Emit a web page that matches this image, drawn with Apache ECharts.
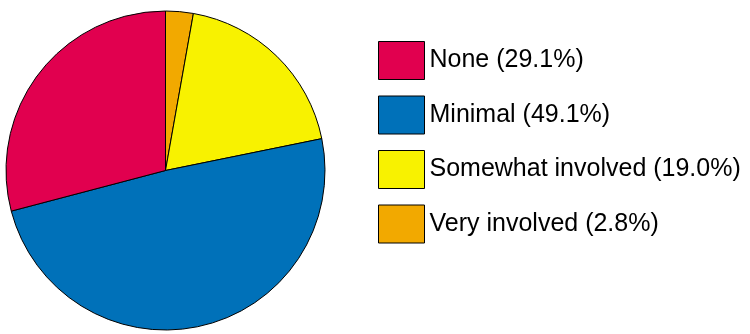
<!DOCTYPE html>
<html><head><meta charset="utf-8">
<script src="https://cdn.jsdelivr.net/npm/echarts@6/dist/echarts.min.js"></script>
<style>html,body{margin:0;padding:0;background:#fff}#c{width:750px;height:334px}</style>
</head><body><div id="c"></div>
<script>
// Pie order, clockwise from 12 o'clock
const categories = ['Very involved', 'Somewhat involved', 'Minimal', 'None'];
const values = [2.8, 19.0, 49.1, 29.1];
const colors = ['#F2A900', '#F8F200', '#0071B9', '#E1004F'];
const legendOrder = ['None', 'Minimal', 'Somewhat involved', 'Very involved'];

const label = (c) => c + ' (' + values[categories.indexOf(c)].toFixed(1) + '%)';

const chart = echarts.init(document.getElementById('c'));
chart.setOption({
  animation: false,
  backgroundColor: '#fff',
  legend: {
    orient: 'vertical',
    left: 378,
    top: 41,
    padding: 0,
    itemWidth: 46,
    itemHeight: 38,
    itemGap: 15.5,
    icon: 'rect',
    data: legendOrder.map(label),
    itemStyle: { borderColor: '#000', borderWidth: 1 },
    textStyle: { fontFamily: 'Liberation Sans, Arial, sans-serif', fontSize: 25, color: '#000' },
    selectedMode: false
  },
  series: [{
    type: 'pie',
    center: [165.5, 170.5],
    radius: 159.5,
    startAngle: 90,
    clockwise: true,
    label: { show: false },
    labelLine: { show: false },
    emphasis: { disabled: true },
    itemStyle: { borderColor: '#000', borderWidth: 1 },
    data: categories.map((c, i) => ({ name: label(c), value: values[i], itemStyle: { color: colors[i] } }))
  }]
});
</script></body></html>
